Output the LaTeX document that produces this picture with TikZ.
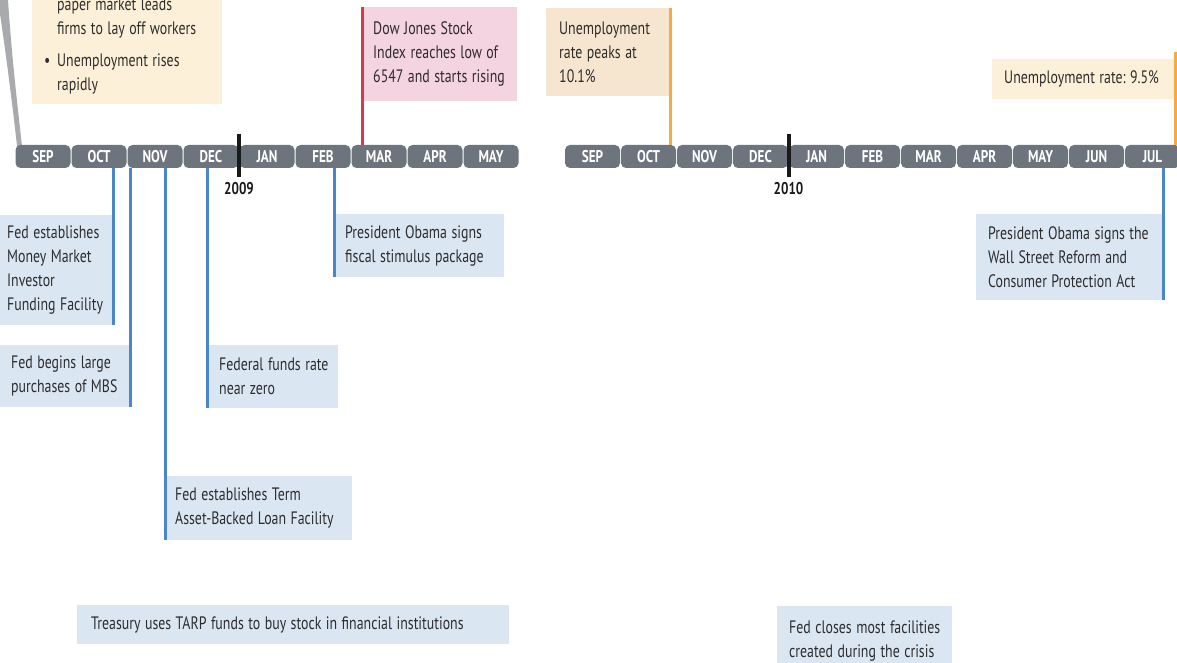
\documentclass[tikz,border=0pt]{standalone}
\usepackage{fontspec}
\setmainfont[FakeStretch=0.77]{PT Sans}
\usepackage{xcolor}
\usepackage{tikz}
\usetikzlibrary{positioning, calc}
\definecolor{tbar}{RGB}{110,116,125}
\definecolor{tink}{RGB}{45,45,45}
\definecolor{tblue}{RGB}{74,134,200}
\definecolor{tbluefill}{RGB}{219,230,243}
\definecolor{tred}{RGB}{210,58,78}
\definecolor{tpink}{RGB}{243,212,224}
\definecolor{torange}{RGB}{245,171,69}
\definecolor{tbeige}{RGB}{246,230,207}
\definecolor{tcream}{RGB}{253,240,216}
\definecolor{twedge}{RGB}{168,170,174}
\frenchspacing

\begin{document}
\begin{tikzpicture}[
  x=1pt, y=-1pt,
  font=\fontsize{18}{24}\selectfont, text=tink,
  month/.style={rounded corners=5pt, fill=tbar, text=white, minimum width=55pt,
                minimum height=23pt, inner sep=0pt, font=\fontsize{17}{17}\selectfont\bfseries},
  note/.style 2 args={fill=#1, anchor=north west, align=left, inner sep=0pt,
                      execute at begin node={\leftskip=#2\spaceskip=4.5pt plus 2pt\relax}},
  yrmark/.style={line width=4pt, black!90},
  yrlab/.style={font=\fontsize{17}{17}\selectfont\bfseries, text=black!90, inner sep=0pt},
  bline/.style={line width=3pt, tblue},
  rline/.style={line width=3pt, tred},
  oline/.style={line width=3pt, torange}
]
\useasboundingbox (0,0) rectangle (1177,663);

% ---- Callout wedge ----
\fill[twedge] (0,0) -- (8,0) .. controls (12,60) and (18,110) .. (22,146)
  -- (17,146) .. controls (12,100) and (4,40) .. (0,14) -- cycle;

% ---- Months 2008/09 and 2009/10 ----
\foreach \m [count=\i] in {SEP,OCT,NOV,DEC,JAN,FEB,MAR,APR,MAY}
  \node[month] (m\i) at ({43+56*(\i-1)},156.5) {\m};
\foreach \m [count=\i] in {SEP,OCT,NOV,DEC,JAN,FEB,MAR,APR,MAY,JUN,JUL}
  \node[month] (n\i) at ({592.5+56*(\i-1)},156.5) {\m};

% ---- Year markers ----
\coordinate (y9) at ($(m4.east)!0.5!(m5.west)$);
\coordinate (y10) at ($(n4.east)!0.5!(n5.west)$);
\draw[yrmark] ($(y9)+(0,-22.5)$) -- ($(y9)+(0,20.5)$);
\draw[yrmark] ($(y10)+(0,-22.5)$) -- ($(y10)+(0,20.5)$);
\node[yrlab] (l9) at ($(y9)+(0,32)$) {2009};
\node[yrlab] (l10) at ($(y10)+(0,32)$) {2010};

% ---- Events above the timeline ----
\node[note={tcream}{12pt}, anchor=south west, text width=190pt,
      minimum height=115pt] (jobs) at (32,104) {%
  \hspace*{13pt}paper market leads\\
  \hspace*{13pt}firms to lay off workers\\[8pt]
  \makebox[13pt][l]{\textbullet}Unemployment rises\\
  \hspace*{13pt}rapidly};

\node[note={tpink}{11pt}, text width=155pt, minimum height=94pt] (dow)
  at (362,7) {Dow Jones Stock\\ Index reaches low of\\ 6547 and starts rising};
\draw[rline] (dow.north west) -- (dow.north west |- m7.north);

\node[note={tbeige}{13pt}, text width=124pt, minimum height=88pt] (peak)
  at (546,8) {Unemployment\\ rate peaks at\\ 10.1\%};
\draw[oline] (peak.north east) -- (peak.north east |- n2.north);

\node[note={tcream}{12pt}, text width=183pt, minimum height=40pt] (rate)
  at (992,59) {Unemployment rate: 9.5\%};
\draw[oline] ($(rate.north east)+(0,-7)$) -- (rate.north east |- n11.north);

% ---- Events below the timeline ----
\node[note={tbluefill}{7pt}, text width=113pt, minimum height=110pt] (mmiff)
  at (0,215) {Fed establishes\\ Money Market\\ Investor\\ Funding Facility};
\draw[bline] (mmiff.south east) -- (mmiff.south east |- m2.south);

\node[note={tbluefill}{11pt}, text width=130pt, minimum height=62pt] (mbs)
  at (0,345) {Fed begins large\\ purchases of MBS};
\draw[bline] (mbs.south east) -- (mbs.south east |- m3.south);

\node[note={tbluefill}{10pt}, text width=187pt, minimum height=64pt] (talf)
  at (165,476) {Fed establishes Term\\ Asset-Backed Loan Facility};
\draw[bline] (talf.south west) -- (talf.south west |- m3.south);

\node[note={tbluefill}{12pt}, text width=131pt, minimum height=63pt] (ffr)
  at (207,345) {Federal funds rate\\ near zero};
\draw[bline] (ffr.south west) -- (ffr.south west |- m4.south);

\node[note={tbluefill}{11pt}, text width=170pt, minimum height=63pt] (stim)
  at (334,214) {President Obama signs\\ fiscal stimulus package};
\draw[bline] (stim.south west) -- (stim.south west |- m6.south);

\node[note={tbluefill}{12pt}, text width=187pt, minimum height=86pt] (dodd)
  at (976,214) {President Obama signs the\\ Wall Street Reform and\\ Consumer Protection Act};
\draw[bline] (dodd.south east) -- (dodd.south east |- n11.south);

\node[note={tbluefill}{14pt}, text width=432pt, minimum height=39pt] (tarp)
  at (77,605) {Treasury uses TARP funds to buy stock in financial institutions};

\node[note={tbluefill}{12pt}, text width=175pt, minimum height=70pt] (close)
  at (777,606) {Fed closes most facilities\\ created during the crisis};

\end{tikzpicture}
\end{document}
